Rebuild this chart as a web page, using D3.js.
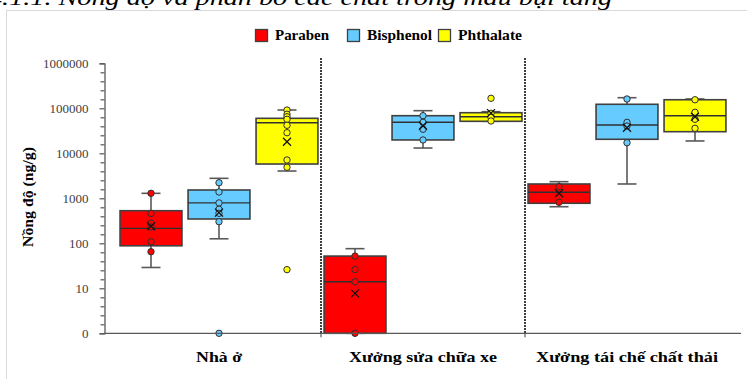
<!DOCTYPE html>
<html>
<head>
<meta charset="utf-8">
<script src="https://cdn.jsdelivr.net/npm/d3@7"></script>
<style>
  html, body { margin: 0; padding: 0; background: #fff; }
  svg { display: block; }
</style>
</head>
<body>
<svg id="chart" width="747" height="379"></svg>
<script>
// Sampling sites and compound groups
const categories = ["Nhà ở", "Xưởng sửa chữa xe", "Xưởng tái chế chất thải"];
const series = ["Paraben", "Bisphenol", "Phthalate"];
const seriesColors = ["#ff0000", "#66ccff", "#ffff00"];

// Box statistics per site: [whisker low, Q1, median, Q3, whisker high] (ng/g)
const parabenBox   = [[29, 88, 215, 530, 1290], [1, 1, 14, 52, 76], [650, 775, 1360, 2080, 2340]];
const bisphenolBox = [[126, 347, 790, 1530, 2780], [13100, 19800, 48800, 68500, 88500], [2080, 20500, 42600, 122800, 172000]];
const phthalateBox = [[4040, 5780, 47900, 59900, 91600], [51400, 51400, 65000, 79800, 84000], [18800, 30200, 68500, 155000, 161000]];

// Means per site (ng/g)
const parabenMean   = [240, 7.7, 1290];
const bisphenolMean = [480, 41000, 37000];
const phthalateMean = [18100, 78000, 65000];

// Individual samples per site (ng/g); 1 sits on the "0" line
const parabenPoints   = [[1290, 460, 280, 230, 108, 65], [52, 26, 14, 1], [1810, 815]];
const bisphenolPoints = [[2220, 1380, 790, 570, 464, 302, 1], [68500, 48800, 34200, 19800], [161000, 48800, 40400, 17200]];
const phthalatePoints = [[91600, 73600, 65000, 57000, 41900, 28700, 7100, 4890, 26], [167000, 77400, 63100, 52200], [155000, 81500, 57000, 35900]];

// Axis ticks
const yTickValues = [1, 10, 100, 1000, 10000, 100000, 1000000];
const yTickLabels = ["0", "10", "100", "1000", "10000", "100000", "1000000"];
const legendLabels = ["Paraben", "Bisphenol", "Phthalate"];

const boxes = [parabenBox, bisphenolBox, phthalateBox];
const means = [parabenMean, bisphenolMean, phthalateMean];
const points = [parabenPoints, bisphenolPoints, phthalatePoints];

const svg = d3.select("#chart");
const serif = "'Liberation Serif', 'Times New Roman', serif";

// Outer frame of the chart
svg.append("rect")
  .attr("x", 6.5).attr("y", 10.5)
  .attr("width", 780).attr("height", 420)
  .attr("fill", "none").attr("stroke", "#d9d9d9").attr("stroke-width", 1);

// Section caption above the chart
svg.append("text")
  .attr("x", -12).attr("y", 5)
  .attr("font-family", serif).attr("font-style", "italic").attr("font-size", 21)
  .attr("textLength", 624).attr("lengthAdjust", "spacingAndGlyphs")
  .attr("fill", "#000")
  .text("4.1.1. Nồng độ và phân bố các chất trong mẫu bụi tầng");

// Scales
const y = d3.scaleLog().domain([1, 1000000]).range([333.3, 63.3]);
const xBand = d3.scaleBand().domain(categories).range([117, 729]);
const xSub = d3.scaleBand().domain(series).range([0, xBand.bandwidth()])
  .paddingInner(0.09).paddingOuter(0.045);

// Y axis: major decades and four evenly spaced minor ticks per decade
const minorTicks = [];
for (let k = 0; k < 6; k++) for (let j = 1; j < 5; j++) minorTicks.push(Math.pow(10, k + j / 5));

const yAxisG = svg.append("g").attr("transform", "translate(104.5,0)");
yAxisG.call(d3.axisLeft(y).tickValues(yTickValues).tickSize(5).tickPadding(11)
  .tickFormat((d, i) => yTickLabels[i]));
yAxisG.call(g => g.selectAll(".tick text")
  .attr("font-family", serif).attr("font-size", 13).attr("fill", "#404040"));
yAxisG.select(".domain").attr("stroke", "#595959").attr("stroke-width", 1.3);
yAxisG.selectAll(".tick line").attr("stroke", "#595959").attr("stroke-width", 1.2);

const yMinorG = svg.append("g").attr("transform", "translate(104.5,0)");
yMinorG.call(d3.axisLeft(y).tickValues(minorTicks).tickSize(4).tickFormat(""));
yMinorG.select(".domain").remove();
yMinorG.selectAll(".tick line").attr("stroke", "#595959").attr("stroke-width", 1.2);

// Y axis title
svg.append("text")
  .attr("transform", `translate(33,${197}) rotate(-90)`)
  .attr("text-anchor", "middle")
  .attr("font-family", serif).attr("font-weight", "bold").attr("font-size", 14)
  .attr("textLength", 100).attr("lengthAdjust", "spacingAndGlyphs")
  .text("Nồng độ (ng/g)");

// Dotted separators between sites
const separators = categories.slice(1).map(c => xBand(c));
svg.selectAll("line.sep").data(separators).join("line")
  .attr("class", "sep")
  .attr("x1", d => d).attr("x2", d => d)
  .attr("y1", y(1000000) - 5).attr("y2", y(1))
  .attr("stroke", "#000").attr("stroke-width", 2).attr("stroke-dasharray", "1.5,1.5");

// Boxes, whiskers, medians, samples and means
const boxW = xSub.bandwidth();
const capW = 19;
categories.forEach((cat, ci) => {
  series.forEach((s, si) => {
    const [lo, q1, med, q3, hi] = boxes[si][ci];
    const x0 = xBand(cat) + xSub(s);
    const cx = x0 + boxW / 2;
    const g = svg.append("g");
    const wc = "#595959";
    // whiskers
    g.append("line").attr("x1", cx).attr("x2", cx).attr("y1", y(hi)).attr("y2", y(q3))
      .attr("stroke", wc).attr("stroke-width", 1.6);
    g.append("line").attr("x1", cx).attr("x2", cx).attr("y1", y(q1)).attr("y2", y(lo))
      .attr("stroke", wc).attr("stroke-width", 1.6);
    g.append("line").attr("x1", cx - capW / 2).attr("x2", cx + capW / 2).attr("y1", y(hi)).attr("y2", y(hi))
      .attr("stroke", wc).attr("stroke-width", 1.6);
    g.append("line").attr("x1", cx - capW / 2).attr("x2", cx + capW / 2).attr("y1", y(lo)).attr("y2", y(lo))
      .attr("stroke", wc).attr("stroke-width", 1.6);
    // box
    g.append("rect").attr("x", x0).attr("y", y(q3))
      .attr("width", boxW).attr("height", Math.max(1, y(q1) - y(q3)))
      .attr("fill", seriesColors[si]).attr("stroke", "#404040").attr("stroke-width", 1.6);
    // median
    g.append("line").attr("x1", x0).attr("x2", x0 + boxW).attr("y1", y(med)).attr("y2", y(med))
      .attr("stroke", "#303030").attr("stroke-width", 1.4);
    // samples
    g.selectAll("circle").data(points[si][ci]).join("circle")
      .attr("cx", cx).attr("cy", d => y(d)).attr("r", 3.2)
      .attr("fill", seriesColors[si]).attr("stroke", "#303030").attr("stroke-width", 1);
    // mean marker
    const my = y(means[si][ci]);
    const m = 4;
    g.append("path")
      .attr("d", `M${cx - m},${my - m}L${cx + m},${my + m}M${cx - m},${my + m}L${cx + m},${my - m}`)
      .attr("stroke", "#111").attr("stroke-width", 1.3).attr("fill", "none");
  });
});

// X axis baseline with ticks at the site boundaries
svg.append("line")
  .attr("x1", 104.5).attr("x2", 741).attr("y1", y(1)).attr("y2", y(1))
  .attr("stroke", "#595959").attr("stroke-width", 1.3);
svg.selectAll("line.xtick").data(separators).join("line")
  .attr("class", "xtick")
  .attr("x1", d => d).attr("x2", d => d).attr("y1", y(1)).attr("y2", y(1) + 4)
  .attr("stroke", "#595959").attr("stroke-width", 1.2);

// Category labels
const labelWidths = [46, 148, 182];
const xAxisG = svg.append("g").attr("transform", `translate(0,${y(1)})`);
xAxisG.call(d3.axisBottom(xBand).tickSize(0).tickPadding(18));
xAxisG.select(".domain").remove();
xAxisG.selectAll(".tick text")
  .attr("font-family", serif).attr("font-weight", "bold").attr("font-size", 15).attr("fill", "#000")
  .attr("textLength", (d, i) => labelWidths[i]).attr("lengthAdjust", "spacingAndGlyphs");

// Legend
const legendX = [255, 347, 438];
const legendW = [54, 65, 64];
const lg = svg.append("g");
legendLabels.forEach((name, i) => {
  lg.append("rect").attr("x", legendX[i] + 0.5).attr("y", 29.5).attr("width", 12).attr("height", 12)
    .attr("fill", seriesColors[i]).attr("stroke", "#404040").attr("stroke-width", 1.3);
  lg.append("text").attr("x", legendX[i] + 20).attr("y", 40)
    .attr("font-family", serif).attr("font-weight", "bold").attr("font-size", 14)
    .attr("textLength", legendW[i]).attr("lengthAdjust", "spacingAndGlyphs")
    .text(name);
});
</script>
</body>
</html>
